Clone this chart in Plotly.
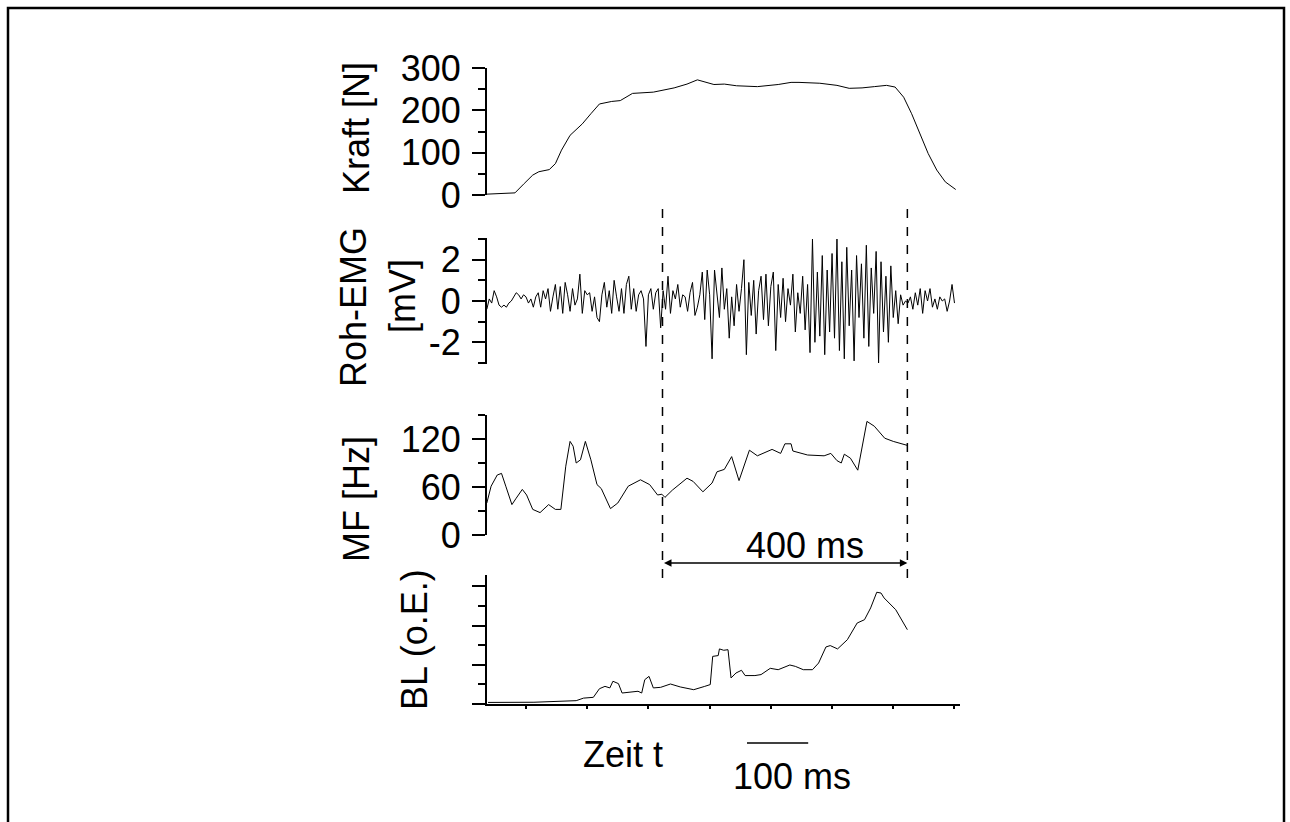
import numpy as np
import plotly.graph_objects as go

# ---- data -------------------------------------------------------------
# force curve: time [ms], force [N]
kraft_t = [36, 63, 82, 97, 111, 121, 138, 148, 158, 172, 192, 206, 220, 240, 254,
           274, 308, 342, 363, 380, 390, 407, 424, 444, 478, 512, 533, 546, 580,
           594, 608, 628, 649, 669, 689, 703, 717, 730, 744, 757, 771, 785, 802]
kraft_n = [2, 4, 5, 27, 47, 55, 60, 74, 106, 141, 168, 192, 215, 221, 223,
           240, 243, 253, 262, 272, 268, 261, 262, 258, 256, 261, 266, 266, 264,
           261, 259, 252, 253, 256, 259, 255, 231, 192, 145, 98, 59, 31, 13]

# raw EMG [mV], sampled every 4 ms from t = 36 ms
emg_t0 = 36
emg_dt = 4
emg_mv = [
    -0.4, 0.1, -0.1, 0.5, 0.2, -0.2, -0.3, -0.2, -0.3, -0.1,
    0.0, 0.2, 0.4, 0.3, 0.1, 0.3, 0.2, -0.1, 0.1, -0.3,
    0.2, 0.4, -0.3, 0.5, 0.1, 0.6, -0.5, 0.2, 0.8, -0.4,
    0.7, -0.6, 0.9, 0.3, -0.5, 0.6, -0.2, 0.1, 1.3, -0.6,
    0.5, 0.3, 0.4, -0.5, 0.2, -0.8, -1.0, 0.3, 0.9, -0.3,
    0.5, -0.6, 1.0, 0.2, -0.5, 0.6, -0.6, 0.8, 1.2, -0.4,
    0.6, -0.5, 0.3, 0.5, 0.1, -2.2, 0.3, 0.6, -0.4, 0.4,
    0.6, -1.3, 0.5, -0.4, 1.2, -0.6, 0.5, 0.1, 0.8, -0.3,
    0.3, 0.2, -0.5, 0.4, 0.9, -0.7, -0.3, 0.3, 1.4, -0.9,
    1.5, 0.3, -2.8, 1.5, 0.5, -0.8, 1.6, -0.4, 0.6, -1.8,
    0.2, -1.2, 0.8, -0.5, 0.6, 2.0, -2.6, 0.9, -0.7, 1.0,
    -1.6, 0.5, 1.2, -0.9, 1.3, -1.2, 0.7, 1.4, -2.4, 0.8,
    -0.8, 1.1, -1.0, 0.6, -0.2, 1.3, -1.5, 0.4, -0.6, 1.2,
    -1.4, 0.8, -2.5, 3.0, -2.0, 1.4, -1.7, 2.2, -2.6, 1.5,
    -1.5, 2.3, -1.8, 3.0, -2.4, 1.9, -2.8, 2.6, -1.2, 1.5,
    -2.9, 2.2, -0.8, 1.8, -1.8, 2.7, -2.2, 1.6, -0.6, 2.4,
    -3.0, 1.9, -1.5, 1.2, -2.0, 1.7, -0.8, 0.5, -1.1, 0.3,
    -0.2, 0.0, -0.1, 0.2, -0.4, 0.4, -0.2, 0.6, -0.6, 0.5,
    0.0, 0.6, -0.3, 0.1, -0.4, 0.2, 0.0, 0.1, -0.5, 0.0,
    0.8, -0.1,
]

# median frequency [Hz]
mf_t = [36, 43, 53, 60, 67, 77, 84, 94, 101, 111, 123, 137, 148, 157, 165, 172,
        177, 182, 189, 197, 206, 216, 223, 238, 250, 267, 287, 302, 315, 322,
        327, 339, 363, 373, 389, 404, 412, 424, 436, 448, 465, 478, 502, 516,
        523, 533, 536, 560, 587, 598, 608, 615, 620, 630, 642, 657, 669, 686,
        700, 716, 723]
mf_hz = [40, 61, 75, 77, 61, 38, 46, 57, 50, 32, 28, 38, 32, 32, 86, 117,
         111, 90, 94, 117, 94, 63, 58, 33, 40, 61, 69, 63, 50, 51,
         47, 56, 71, 67, 54, 65, 79, 82, 98, 68, 106, 99, 107, 102,
         114, 114, 105, 100, 99, 102, 93, 90, 101, 96, 81, 142, 136, 121,
         117, 113, 112]

# BL (arbitrary units)
bl_t = [38, 50, 113, 182, 194, 210, 220, 229, 237, 242, 251, 257, 270, 283, 289,
        294, 301, 308, 320, 336, 352, 374, 392, 401, 405, 414, 416, 423, 430,
        435, 443, 452, 458, 474, 484, 499, 512, 531, 540, 553, 568, 578, 590,
        597, 609, 625, 641, 653, 663, 673, 680, 685, 704, 723]
bl_v = [0.08, 0.085, 0.09, 0.17, 0.30, 0.34, 0.78, 0.90, 0.82, 1.16, 1.04, 0.56,
        0.60, 0.65, 0.56, 1.24, 1.41, 0.82, 0.85, 1.02, 0.87, 0.73, 0.90, 0.99,
        2.43, 2.47, 2.81, 2.74, 2.77, 1.33, 1.58, 1.72, 1.45, 1.45, 1.50, 1.82,
        1.75, 1.99, 1.92, 1.75, 1.75, 2.09, 2.91, 2.98, 2.81, 3.28, 4.13, 4.30,
        4.90, 5.70, 5.66, 5.41, 4.81, 3.79]

# tick labels
kraft_ticks = [0, 100, 200, 300]
emg_ticks = [-2, 0, 2]
mf_ticks = [0, 60, 120]

# analysed window and scale bar [ms]
win_start = 323
win_len = 400
bar_start = 461
bar_len = 100

# ---- layout helpers ---------------------------------------------------
W, H = 1290, 822
FONT = "Liberation Sans, Arial, sans-serif"
FS = 36


def px(x):
    return x / W


def py(y):
    return 1 - y / H


t_range = [36.3, 809]
emg_t = list(emg_t0 + emg_dt * np.arange(len(emg_mv)))

line = dict(color="black", width=1)
fig = go.Figure()
fig.add_trace(go.Scatter(x=kraft_t, y=kraft_n, mode="lines", line=line, yaxis="y"))
fig.add_trace(go.Scatter(x=emg_t, y=emg_mv, mode="lines", line=line, yaxis="y2"))
fig.add_trace(go.Scatter(x=mf_t, y=mf_hz, mode="lines", line=line, yaxis="y3"))
fig.add_trace(go.Scatter(x=bl_t, y=bl_v, mode="lines", line=line, yaxis="y4"))


def yax(dom, rng, ticks, minor, labels=True):
    ax = dict(
        domain=[py(dom[1]), py(dom[0])], range=rng, anchor="x",
        automargin=False,
        showline=True, linecolor="black", linewidth=2,
        ticks="outside", ticklen=13, tickwidth=2, tickcolor="black",
        showgrid=False, zeroline=False,
        showticklabels=labels, ticklabelstandoff=4,
        tickfont=dict(family=FONT, size=FS, color="black"),
        minor=dict(dtick=minor, tick0=0, ticks="outside", ticklen=7,
                   tickwidth=2, tickcolor="black", showgrid=False),
    )
    if ticks is None:
        ax.update(dtick=2, tick0=0)
    else:
        ax.update(tickmode="array", tickvals=ticks,
                  ticktext=[str(v) for v in ticks])
    return ax


fig.update_layout(
    width=W, height=H,
    margin=dict(l=0, r=0, t=0, b=0, pad=0),
    paper_bgcolor="white", plot_bgcolor="rgba(0,0,0,0)",
    showlegend=False,
    font=dict(family=FONT, size=FS, color="black"),
    xaxis=dict(
        domain=[px(487), px(960)], range=t_range, anchor="y4",
        automargin=False,
        showline=True, linecolor="black", linewidth=2,
        ticks="outside", ticklen=3, tickwidth=2, tickcolor="black",
        dtick=100, tick0=0, showticklabels=False, showgrid=False, zeroline=False,
    ),
    yaxis=yax((68, 195), [0, 300], kraft_ticks, 50),
    yaxis2=yax((238, 364), [-3.05, 3.05], emg_ticks, 1),
    yaxis3=yax((415, 535), [0, 150], mf_ticks, 30),
    yaxis4=yax((575, 704), [0, 6.58], None, 1, labels=False),
)

shapes = []
# outer frame
shapes.append(dict(type="rect", xref="paper", yref="paper",
                   x0=px(8), x1=px(1284), y0=py(830), y1=py(8),
                   line=dict(color="black", width=2.5)))
# dashed window markers
for t in (win_start, win_start + win_len):
    shapes.append(dict(type="line", xref="x", yref="paper",
                       x0=t, x1=t, y0=py(578), y1=py(205),
                       line=dict(color="black", width=1.5, dash="dash")))
# 100 ms scale bar
shapes.append(dict(type="line", xref="x", yref="paper",
                   x0=bar_start, x1=bar_start + bar_len, y0=py(743), y1=py(743),
                   line=dict(color="black", width=1.5)))
fig.update_layout(shapes=shapes)

ann = []
# double arrow spanning the analysed window
ann.append(dict(x=win_start + win_len, y=py(563), xref="x", yref="paper",
                ax=win_start, ay=0, axref="x", ayref="pixel",
                text="", showarrow=True, arrowhead=2, arrowside="end+start",
                arrowwidth=1.5, arrowsize=1, arrowcolor="black"))
ann.append(dict(x=px(805), y=py(545), xref="paper", yref="paper",
                text="400 ms", showarrow=False, font=dict(size=FS),
                yanchor="middle"))


def vlabel(text, x, y):
    return dict(x=px(x), y=py(y), xref="paper", yref="paper", text=text,
                textangle=-90, showarrow=False, font=dict(size=FS),
                xanchor="center", yanchor="middle")


ann.append(vlabel("Kraft [N]", 356, 128))
ann.append(vlabel("Roh-EMG", 354, 307))
ann.append(vlabel("[mV]", 402, 296))
ann.append(vlabel("MF [Hz]", 356, 499))
ann.append(vlabel("BL (o.E.)", 414, 640))
ann.append(dict(x=px(623), y=py(754), xref="paper", yref="paper",
                text="Zeit t", showarrow=False, font=dict(size=FS),
                yanchor="middle"))
ann.append(dict(x=px(792), y=py(776), xref="paper", yref="paper",
                text="100 ms", showarrow=False, font=dict(size=FS),
                yanchor="middle"))
fig.update_layout(annotations=ann)

fig.write_html("out.html")
